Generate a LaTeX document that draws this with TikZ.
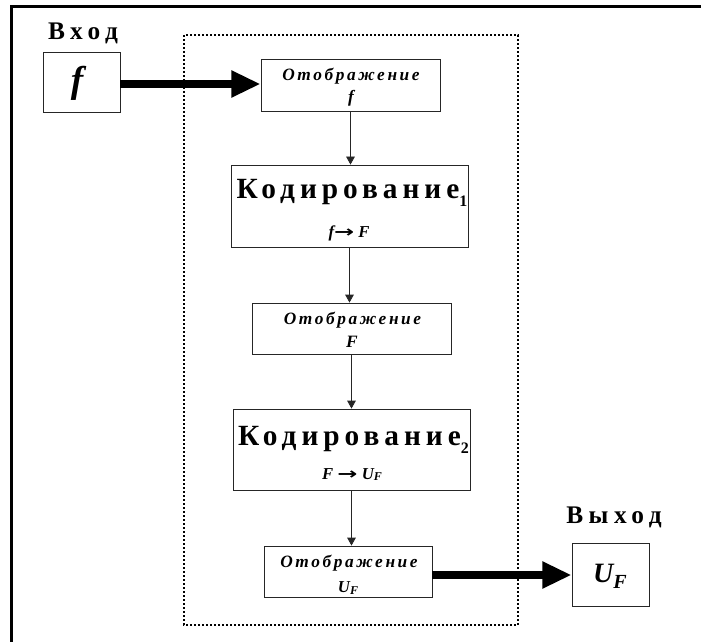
\documentclass[tikz,border=0pt]{standalone}
\usepackage{fontspec}
\usepackage{graphicx}
\setmainfont{Liberation Serif}
\newfontfamily\spc{Liberation Serif}
\newfontfamily\arrfont{DejaVu Sans}
\usetikzlibrary{arrows.meta}
\newcommand\otbtext{{\fontsize{13}{15}\selectfont\spc\addfontfeature{LetterSpace=15}\bfseries\itshape Отображение}}
\newcommand\kodtext[1]{{\fontsize{22}{24}\selectfont\spc\bfseries\addfontfeature{LetterSpace=17}Кодирование\raisebox{-6.5pt}{\fontsize{12}{12}\selectfont #1}}}
\newcommand\smallUF{{\bfseries\itshape U\raisebox{-1.5pt}{\fontsize{9}{9}\selectfont F}}}
\newcommand\bigarrow{{\arrfont\bfseries\fontsize{12}{14}\selectfont\scalebox{1.5}[1.0]{→}}}
\begin{document}
\begin{tikzpicture}[x=0.75pt,y=-0.75pt,
  box/.style={draw=black!85, line width=0.6pt, inner sep=0pt, fill=white},
  txt/.style={inner sep=0pt, anchor=base},
  thinarrow/.style={draw=black!85, line width=0.6pt, -{Triangle[length=6pt,width=6.5pt]}},
  thickarrow/.style={line width=6pt, -{Triangle[length=22pt,width=19pt]}},
  frame/.style={line width=2.2pt},
  dotbox/.style={line width=1.5pt, dash pattern=on 1.5pt off 1.5pt}
]
\useasboundingbox (0,0) rectangle (701,642);
% outer frame (only top and left visible)
\draw[frame] (11.5,642) -- (11.5,6.5) -- (701,6.5);
% dotted enclosure
\draw[dotbox] (184,35) rectangle (518,625);

% boxes
\node[box, minimum width=57.75pt, minimum height=45pt] (inp) at (81.5,82) {};
\node[box, minimum width=134.25pt, minimum height=39pt] (m1) at (350.5,85) {};
\node[box, minimum width=177.75pt, minimum height=61.5pt] (k1) at (349.5,206) {};
\node[box, minimum width=149.25pt, minimum height=38.25pt] (m2) at (351.5,328.5) {};
\node[box, minimum width=177.75pt, minimum height=60.75pt] (k2) at (351.5,449.5) {};
\node[box, minimum width=126pt, minimum height=38.25pt] (m3) at (348,571.5) {};
\node[box, minimum width=57.75pt, minimum height=47.25pt] (out) at (610.5,574.5) {};

% texts
\node[txt] (tin) at (83,39.5) {\fontsize{19}{21}\selectfont\spc\bfseries\addfontfeature{LetterSpace=22}Вход};
\node[txt] (tf) at (77,93) {\fontsize{28}{30}\selectfont\bfseries\itshape f};
\node[txt] (t1a) at (351,80.7) {\otbtext};
\node[txt] (t1b) at (351,103) {\fontsize{13}{15}\selectfont\bfseries\itshape f};
\node[txt] (t2a) at (352,198.3) {\kodtext{1}};
\node[txt] (t2b) at (349,238) {\fontsize{12.5}{14}\selectfont\bfseries\itshape f\bigarrow\ F};
\node[txt] (t3a) at (352.5,325) {\otbtext};
\node[txt] (t3b) at (352,347) {\fontsize{13}{15}\selectfont\bfseries\itshape F};
\node[txt] (t4a) at (353.5,445) {\kodtext{2}};
\node[txt] (t4b) at (352,479) {\fontsize{12.5}{14}\selectfont\bfseries\itshape F \bigarrow\ \smallUF};
\node[txt] (t5a) at (349,567) {\otbtext};
\node[txt] (t5b) at (348,592) {\fontsize{12.5}{14}\selectfont\smallUF};
\node[txt] (tout) at (614,523.5) {\fontsize{19}{21}\selectfont\spc\bfseries\addfontfeature{LetterSpace=22}Выход};
\node[txt] (tuf) at (610,582) {\fontsize{21}{23}\selectfont\bfseries\itshape U\raisebox{-5pt}{\fontsize{15}{15}\selectfont F}};

% connectors
\draw[thickarrow] (inp.east |- 0,84) -- (m1.west |- 0,84);
\draw[thinarrow] (m1.south) -- (m1.south |- k1.north);
\draw[thinarrow] (k1.south) -- (k1.south |- m2.north);
\draw[thinarrow] (m2.south) -- (m2.south |- k2.north);
\draw[thinarrow] (k2.south) -- (k2.south |- m3.north);
\draw[thickarrow] (m3.east |- 0,575) -- (out.west |- 0,575);
\end{tikzpicture}
\end{document}
